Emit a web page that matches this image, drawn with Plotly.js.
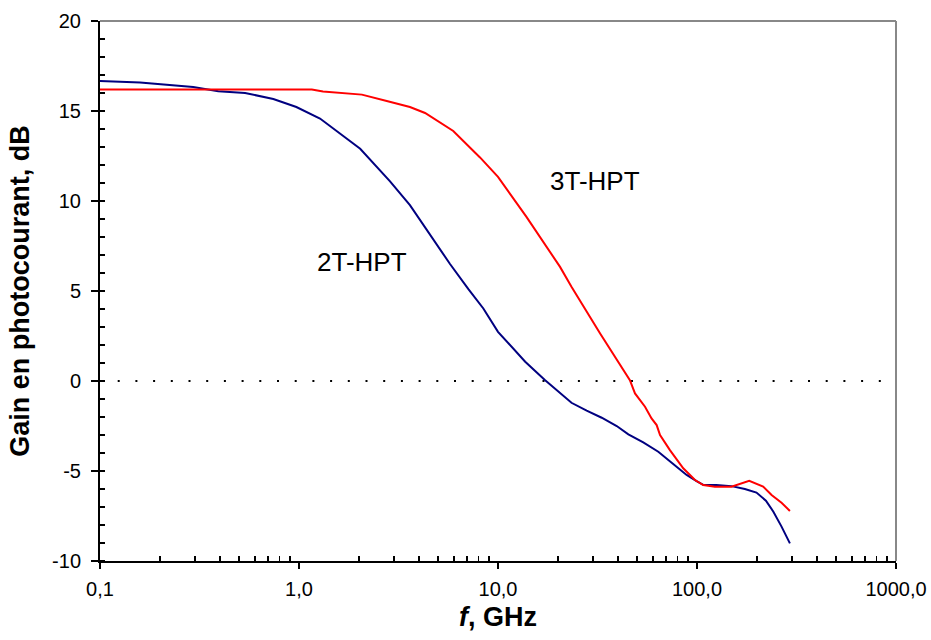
<!DOCTYPE html>
<html>
<head>
<meta charset="utf-8">
<script src="https://cdn.plot.ly/plotly-3.0.1.min.js"></script>
<style>html,body{margin:0;padding:0;background:#fff}#chart{width:931px;height:640px}</style>
</head>
<body>
<div id="chart"></div>
<script>
// 2T-HPT (blue)
var freq2T = [0.1, 0.159, 0.294, 0.393, 0.536, 0.743, 0.97, 1.275, 2.03, 2.55, 2.86, 3.61, 4.64, 5.74, 7.10, 8.44, 10.0, 13.7, 17.2, 19.7, 23.4, 27.9, 33.2, 39.5, 45.2, 53.7, 63.9, 74.6, 88.7, 99.5, 108, 125, 149, 174, 199, 222, 242, 266, 293];
var gain2T = [16.67, 16.58, 16.33, 16.1, 16.0, 15.67, 15.22, 14.58, 12.9, 11.71, 11.1, 9.77, 8.0, 6.5, 5.1, 4.03, 2.73, 1.07, 0.05, -0.5, -1.21, -1.65, -2.04, -2.5, -2.96, -3.41, -3.93, -4.54, -5.22, -5.56, -5.78, -5.78, -5.84, -6.0, -6.2, -6.65, -7.26, -8.09, -9.02];
// 3T-HPT (red)
var freq3T = [0.1, 0.8, 1.16, 1.32, 2.07, 2.76, 3.61, 4.30, 5.96, 8.12, 10.0, 13.9, 20.5, 23.4, 32.6, 46.0, 48.8, 54.8, 59.1, 62.7, 65.2, 73.1, 85.3, 97.7, 107.5, 123, 149, 183, 215, 237, 266, 293];
var gain3T = [16.2, 16.2, 16.2, 16.08, 15.91, 15.56, 15.22, 14.89, 13.89, 12.42, 11.34, 9.12, 6.34, 5.23, 2.64, 0.05, -0.69, -1.43, -2.08, -2.45, -3.0, -3.84, -4.85, -5.5, -5.78, -5.87, -5.87, -5.54, -5.87, -6.33, -6.76, -7.22];

var xTickVals = [0.1, 1, 10, 100, 1000];
var xTickText = ["0,1", "1,0", "10,0", "100,0", "1000,0"];
var xMinorVals = [0.2,0.3,0.4,0.5,0.6,0.7,0.8,0.9, 2,3,4,5,6,7,8,9, 20,30,40,50,60,70,80,90, 200,300,400,500,600,700,800,900];
var yTickVals = [-10, -5, 0, 5, 10, 15, 20];
var yTickText = ["-10", "-5", "0", "5", "10", "15", "20"];
var label2T = "2T-HPT";
var label3T = "3T-HPT";

var FONT = "Liberation Sans, Arial, sans-serif";

var traces = [
  {x: freq2T, y: gain2T, type: "scatter", mode: "lines", name: label2T,
   line: {color: "#000080", width: 2}},
  {x: freq3T, y: gain3T, type: "scatter", mode: "lines", name: label3T,
   line: {color: "#FF0000", width: 2}}
];

var layout = {
  width: 931, height: 640,
  margin: {l: 100, r: 35, t: 21, b: 79, pad: 0},
  paper_bgcolor: "#fff", plot_bgcolor: "#fff",
  showlegend: false,
  font: {family: FONT, size: 20, color: "#000"},
  xaxis: {
    type: "log", range: [-1, 3],
    tickmode: "array", tickvals: xTickVals, ticktext: xTickText,
    ticks: "outside", ticklen: 6, tickwidth: 2, tickcolor: "#000",
    minor: {tickmode: "array", tickvals: xMinorVals, ticks: "inside", ticklen: 5, tickwidth: 1.5, tickcolor: "#000", showgrid: false},
    showline: true, linecolor: "#000", linewidth: 2,
    showgrid: false, zeroline: false, automargin: false,
    tickfont: {family: FONT, size: 20},
    ticklabelstandoff: 3,
    title: {text: "<i>f</i>, GHz", font: {family: FONT, size: 27, weight: "bold"}, standoff: 8}
  },
  yaxis: {
    range: [-10, 20],
    tickmode: "array", tickvals: yTickVals, ticktext: yTickText,
    ticks: "outside", ticklen: 7, tickwidth: 2, tickcolor: "#000",
    minor: {tickmode: "linear", tick0: 0, dtick: 1, ticks: "inside", ticklen: 5, tickwidth: 1.5, tickcolor: "#000", showgrid: false},
    showline: true, linecolor: "#000", linewidth: 2,
    showgrid: false, zeroline: false, automargin: false,
    tickfont: {family: FONT, size: 20},
    ticklabelstandoff: 6,
    title: {text: "<b>Gain en photocourant, dB</b>", font: {family: FONT, size: 27}, standoff: 15}
  },
  xaxis2: {
    type: "log", range: [-1, 3], overlaying: "x", anchor: "y", side: "bottom",
    tickmode: "array", tickvals: xTickVals, ticks: "inside", ticklen: 5, tickwidth: 2, tickcolor: "#000",
    showticklabels: false, showline: false, showgrid: false, zeroline: false
  },
  yaxis2: {
    range: [-10, 20], overlaying: "y", anchor: "x", side: "left",
    tickmode: "array", tickvals: yTickVals, ticks: "inside", ticklen: 5, tickwidth: 2, tickcolor: "#000",
    showticklabels: false, showline: false, showgrid: false, zeroline: false
  },
  shapes: [
    {type: "line", xref: "paper", yref: "y", x0: 0, x1: 1, y0: 0, y1: 0,
     line: {color: "#000", width: 2, dash: "2px,15.7px"}, layer: "below"},
    {type: "line", xref: "paper", yref: "paper", x0: 0, x1: 1, y0: 1, y1: 1,
     line: {color: "#888", width: 2}, layer: "above"},
    {type: "line", xref: "paper", yref: "paper", x0: 1, x1: 1, y0: 0, y1: 1,
     line: {color: "#888", width: 2}, layer: "above"}
  ],
  annotations: [
    {x: 0.319, y: 6.63, xref: "x", yref: "y", text: label2T, showarrow: false,
     xanchor: "center", yanchor: "middle", font: {family: FONT, size: 26, color: "#000"}},
    {x: 1.486, y: 11.1, xref: "x", yref: "y", text: label3T, showarrow: false,
     xanchor: "center", yanchor: "middle", font: {family: FONT, size: 26, color: "#000"}}
  ]
};

Plotly.newPlot("chart", traces, layout, {staticPlot: true, displayModeBar: false});
</script>
</body>
</html>
